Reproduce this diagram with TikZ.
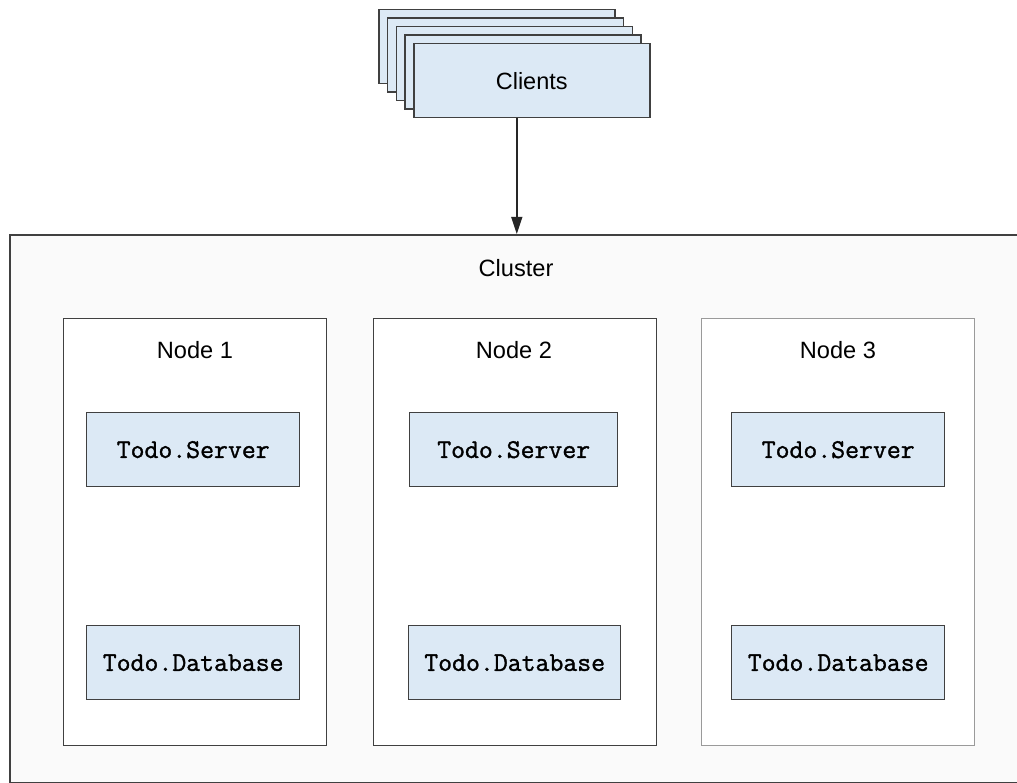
\documentclass[tikz,border=0pt]{standalone}
\usepackage{fontspec}
\setmainfont{Liberation Sans}
\newfontfamily\codefont[FakeBold=1.3]{Latin Modern Mono}
\usetikzlibrary{arrows.meta}
\definecolor{boxblue}{HTML}{DCE9F5}
\definecolor{edgedark}{HTML}{404040}
\definecolor{edgelight}{HTML}{9A9A9A}
\begin{document}
\begin{tikzpicture}[x=1pt,y=-1pt,
  client/.style={draw=edgedark,line width=1.5pt,fill=boxblue,minimum width=236pt,minimum height=74pt,inner sep=0pt,anchor=north west,font=\fontsize{23.5}{26}\selectfont},
  hostbox/.style={draw=edgedark,line width=1.4pt,fill=white,inner sep=0pt,anchor=north west},
  compbox/.style={draw=edgedark,line width=1.4pt,fill=boxblue,inner sep=0pt,anchor=north west,minimum width=212pt,minimum height=74pt,font=\codefont\fontsize{27}{30}\selectfont},
  lbl/.style={font=\fontsize{23.6}{26}\selectfont,inner sep=0pt}
]
\useasboundingbox (0,0) rectangle (1017,783);
\fill[white] (0,0) rectangle (1017,783);

% clients stack
\node[client] (c1) at (378,9) {};
\node[client] (c2) at (386.75,17.5) {};
\node[client] (c3) at (395.5,26) {};
\node[client] (c4) at (404.25,34.5) {};
\node[client] (clients) at (413,43) {Clients};

% cluster
\node[draw=edgedark,line width=1.6pt,fill=white!98!black,inner sep=0pt,anchor=north west,minimum width=1014pt,minimum height=548pt] (cluster) at (9,234) {};
\node[lbl] (clusterlabel) at (516,268) {Cluster};

\draw[black!85,line width=1.4pt,-{Triangle[length=17pt,width=11pt]}] (clients.south -| cluster.north) -- (cluster.north);

% hosts
\node[hostbox,minimum width=263pt,minimum height=427pt] (n1) at (63,318) {};
\node[hostbox,minimum width=283pt,minimum height=427pt] (n2) at (373,318) {};
\node[hostbox,draw=edgelight,minimum width=273pt,minimum height=427pt] (n3) at (701,318) {};

\node[lbl] (n1t) at (195,350) {Node 1};
\node[lbl] (n2t) at (514,350) {Node 2};
\node[lbl] (n3t) at (838,350) {Node 3};

% components
\node[compbox,minimum width=213pt] (s1) at (86,412) {Todo.Server};
\node[compbox,minimum width=208pt] (s2) at (409,412) {Todo.Server};
\node[compbox,minimum width=213pt] (s3) at (731,412) {Todo.Server};
\node[compbox,minimum width=213pt] (d1) at (86,625) {Todo.Database};
\node[compbox,minimum width=212pt] (d2) at (408,625) {Todo.Database};
\node[compbox,minimum width=213pt] (d3) at (731,625) {Todo.Database};
\end{tikzpicture}
\end{document}
